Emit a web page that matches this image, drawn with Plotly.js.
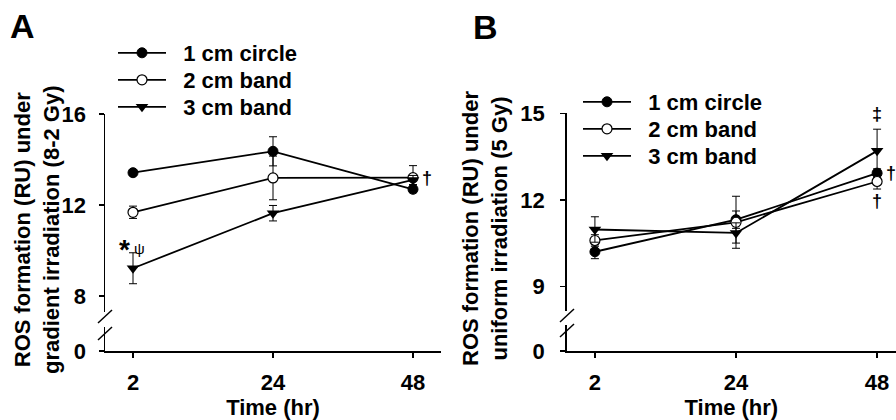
<!DOCTYPE html>
<html>
<head>
<meta charset="utf-8">
<script src="https://cdn.plot.ly/plotly-3.0.1.min.js"></script>
<style>html,body{margin:0;padding:0;background:#fff;}#chart{width:896px;height:420px;}</style>
</head>
<body>
<div id="chart"></div>
<script>
// ---- data ----
const times = ['2', '24', '48'];
const seriesNames = ['1 cm circle', '2 cm band', '3 cm band'];

// Panel A: gradient irradiation (8-2 Gy)
const gradCircle = [13.42, 14.36, 12.69];
const gradCircleErr = [0.12, 0.64, 0.15];
const gradBand2 = [11.68, 13.19, 13.20];
const gradBand2Err = [0.27, 0.96, 0.53];
const gradBand3 = [9.22, 11.64, 13.10];
const gradBand3Err = [0.68, 0.34, 0.20];

// Panel B: uniform irradiation (5 Gy)
const unifCircle = [10.21, 11.32, 12.93];
const unifCircleErr = [0.24, 0.30, 0.15];
const unifBand2 = [10.60, 11.23, 12.64];
const unifBand2Err = [0.20, 0.90, 0.26];
const unifBand3 = [10.98, 10.86, 13.70];
const unifBand3Err = [0.44, 0.35, 0.75];

const yTicksA = [8, 12, 16];
const yTicksB = [9, 12, 15];
const breakTick = [0];

// ---- styling helpers ----
const W = 896, H = 420;
const px = v => v / W;
const py = v => 1 - v / H;
const FONT = 'Liberation Sans, Arial, sans-serif';
const iFirst = times.indexOf('2');
const iLast = times.indexOf('48');
const NB = '\u00a0\u00a0';

const markerStyles = [
  {symbol: 'circle', size: 10, color: '#000', line: {color: '#000', width: 1}},
  {symbol: 'circle', size: 10, color: '#fff', line: {color: '#000', width: 1.2}},
  {symbol: 'triangle-down', size: 11, color: '#000', line: {color: '#000', width: 0}}
];

function mk(xa, ya, vals, errs, i, legend) {
  return {
    type: 'scatter', mode: 'lines+markers',
    x: times, y: vals, xaxis: xa, yaxis: ya,
    name: '<b>' + NB + seriesNames[i] + '</b>',
    legend: legend,
    line: {color: '#000', width: 1.8},
    marker: markerStyles[i],
    error_y: {type: 'data', array: errs, visible: true, color: '#000', thickness: 1, width: 4},
    cliponaxis: false
  };
}
// empty holders so the broken lower axis segments get drawn
function holder(xa, ya) {
  return {type: 'scatter', mode: 'markers', x: [], y: [], xaxis: xa, yaxis: ya, showlegend: false, hoverinfo: 'skip'};
}

const data = [
  holder('x', 'y2'),
  holder('x2', 'y4'),
  mk('x', 'y', gradCircle, gradCircleErr, 0, 'legend'),
  mk('x', 'y', gradBand2, gradBand2Err, 1, 'legend2'),
  mk('x', 'y', gradBand3, gradBand3Err, 2, 'legend3'),
  mk('x2', 'y3', unifCircle, unifCircleErr, 0, 'legend4'),
  mk('x2', 'y3', unifBand2, unifBand2Err, 1, 'legend5'),
  mk('x2', 'y3', unifBand3, unifBand3Err, 2, 'legend6')
];

const tickFont = {family: FONT, size: 22, color: '#000', weight: 'bold'};
const axBase = {
  showgrid: false, zeroline: false, showline: true, linecolor: '#000', linewidth: 1.5,
  ticks: 'outside', ticklen: 5, tickwidth: 1.5, tickcolor: '#000', tickfont: tickFont,
  fixedrange: true
};

// Domains (paper)
const xA = [px(105), px(441)];
const xB = [px(566.7), 1];
const yAup = [py(312), py(114)];
const yAlo = [py(351), py(327)];
const yBup = [py(311), py(113.3)];
const yBlo = [py(351), py(325)];

function leg(xPix, yPix) {
  return {
    x: px(xPix), y: py(yPix), xanchor: 'left', yanchor: 'middle',
    font: {family: FONT, size: 22, color: '#000'},
    bgcolor: 'rgba(0,0,0,0)', borderwidth: 0, itemwidth: 48
  };
}

const xTitle = {text: '<b>Time (hr)</b>', font: {family: FONT, size: 22, color: '#000'}, standoff: 4};

const layout = {
  width: W, height: H,
  margin: {l: 0, r: 0, t: 0, b: 0},
  paper_bgcolor: '#fff', plot_bgcolor: 'rgba(0,0,0,0)',
  font: {family: FONT, color: '#000'},
  showlegend: true,
  xaxis: Object.assign({}, axBase, {
    domain: xA, anchor: 'y2', type: 'category', range: [-0.2, 2.2],
    ticklabelstandoff: 6, title: xTitle
  }),
  yaxis: Object.assign({}, axBase, {
    domain: yAup, anchor: 'x', range: [7.297, 16], tickvals: yTicksA,
    ticklabelstandoff: 8
  }),
  yaxis2: Object.assign({}, axBase, {
    domain: yAlo, anchor: 'x', range: [0, 1], tickvals: breakTick,
    ticklabelstandoff: 8
  }),
  xaxis2: Object.assign({}, axBase, {
    domain: xB, anchor: 'y4', type: 'category', range: [-0.2, 2.134],
    ticklabelstandoff: 6, title: xTitle
  }),
  yaxis3: Object.assign({}, axBase, {
    domain: yBup, anchor: 'x2', range: [8.16, 15], tickvals: yTicksB,
    ticklabelstandoff: 11
  }),
  yaxis4: Object.assign({}, axBase, {
    domain: yBlo, anchor: 'x2', range: [0, 1], tickvals: breakTick,
    ticklabelstandoff: 11
  }),
  legend: leg(113, 53),
  legend2: leg(113, 80),
  legend3: leg(113, 107),
  legend4: leg(578, 102),
  legend5: leg(578, 129),
  legend6: leg(578, 156),
  shapes: [
    // axis break marks, panel A
    {type: 'line', xref: 'paper', yref: 'paper', x0: px(98), y0: py(323), x1: px(112), y1: py(310), line: {color: '#000', width: 1.5}},
    {type: 'line', xref: 'paper', yref: 'paper', x0: px(98), y0: py(340), x1: px(112), y1: py(327), line: {color: '#000', width: 1.5}},
    // axis break marks, panel B
    {type: 'line', xref: 'paper', yref: 'paper', x0: px(560), y0: py(322), x1: px(574), y1: py(309), line: {color: '#000', width: 1.5}},
    {type: 'line', xref: 'paper', yref: 'paper', x0: px(560), y0: py(337), x1: px(574), y1: py(324), line: {color: '#000', width: 1.5}}
  ],
  annotations: [
    // panel letters
    {xref: 'paper', yref: 'paper', x: px(22), y: py(26), text: '<b>A</b>', showarrow: false,
     xanchor: 'center', yanchor: 'middle', font: {family: FONT, size: 34, color: '#000'}},
    {xref: 'paper', yref: 'paper', x: px(485), y: py(27), text: '<b>B</b>', showarrow: false,
     xanchor: 'center', yanchor: 'middle', font: {family: FONT, size: 34, color: '#000'}},
    // y axis titles
    {xref: 'paper', yref: 'paper', x: px(37), y: py(230), textangle: -90, showarrow: false,
     xanchor: 'center', yanchor: 'middle',
     text: '<b>ROS formation (RU) under<br>gradient irradiation (8-2 Gy)</b>',
     font: {family: FONT, size: 22, color: '#000'}},
    {xref: 'paper', yref: 'paper', x: px(485), y: py(229), textangle: -90, showarrow: false,
     xanchor: 'center', yanchor: 'middle',
     text: '<b>ROS formation (RU) under<br>uniform irradiation (5 Gy)</b>',
     font: {family: FONT, size: 22, color: '#000'}},
    // significance marks, panel A
    {xref: 'x', yref: 'y', x: iFirst, y: gradBand3[iFirst] + gradBand3Err[iFirst], yanchor: 'bottom', xanchor: 'center',
     xshift: -9, yshift: -14, showarrow: false,
     text: '<b>*</b>', font: {family: FONT, size: 28, color: '#000'}},
    {xref: 'x', yref: 'y', x: iFirst, y: gradBand3[iFirst] + gradBand3Err[iFirst], yanchor: 'bottom', xanchor: 'center',
     xshift: 6, yshift: -6, showarrow: false,
     text: 'ψ', font: {family: FONT, size: 15, color: '#000'}},
    {xref: 'x', yref: 'y', x: iLast, y: gradBand2[iLast], xanchor: 'left', yanchor: 'middle',
     xshift: 7, showarrow: false, text: '<b>†</b>', font: {family: FONT, size: 18, color: '#000'}},
    // significance marks, panel B
    {xref: 'x2', yref: 'y3', x: iLast, y: unifBand3[iLast] + unifBand3Err[iLast], xanchor: 'center', yanchor: 'bottom',
     yshift: 3, showarrow: false, text: '<b>‡</b>', font: {family: FONT, size: 18, color: '#000'}},
    {xref: 'x2', yref: 'y3', x: iLast, y: unifCircle[iLast], xanchor: 'left', yanchor: 'middle',
     xshift: 7, showarrow: false, text: '<b>†</b>', font: {family: FONT, size: 18, color: '#000'}},
    {xref: 'x2', yref: 'y3', x: iLast, y: unifBand2[iLast] - unifBand2Err[iLast], xanchor: 'center', yanchor: 'top',
     yshift: 0, showarrow: false, text: '<b>†</b>', font: {family: FONT, size: 18, color: '#000'}}
  ]
};

Plotly.newPlot('chart', data, layout, {displayModeBar: false, staticPlot: true});
</script>
</body>
</html>
